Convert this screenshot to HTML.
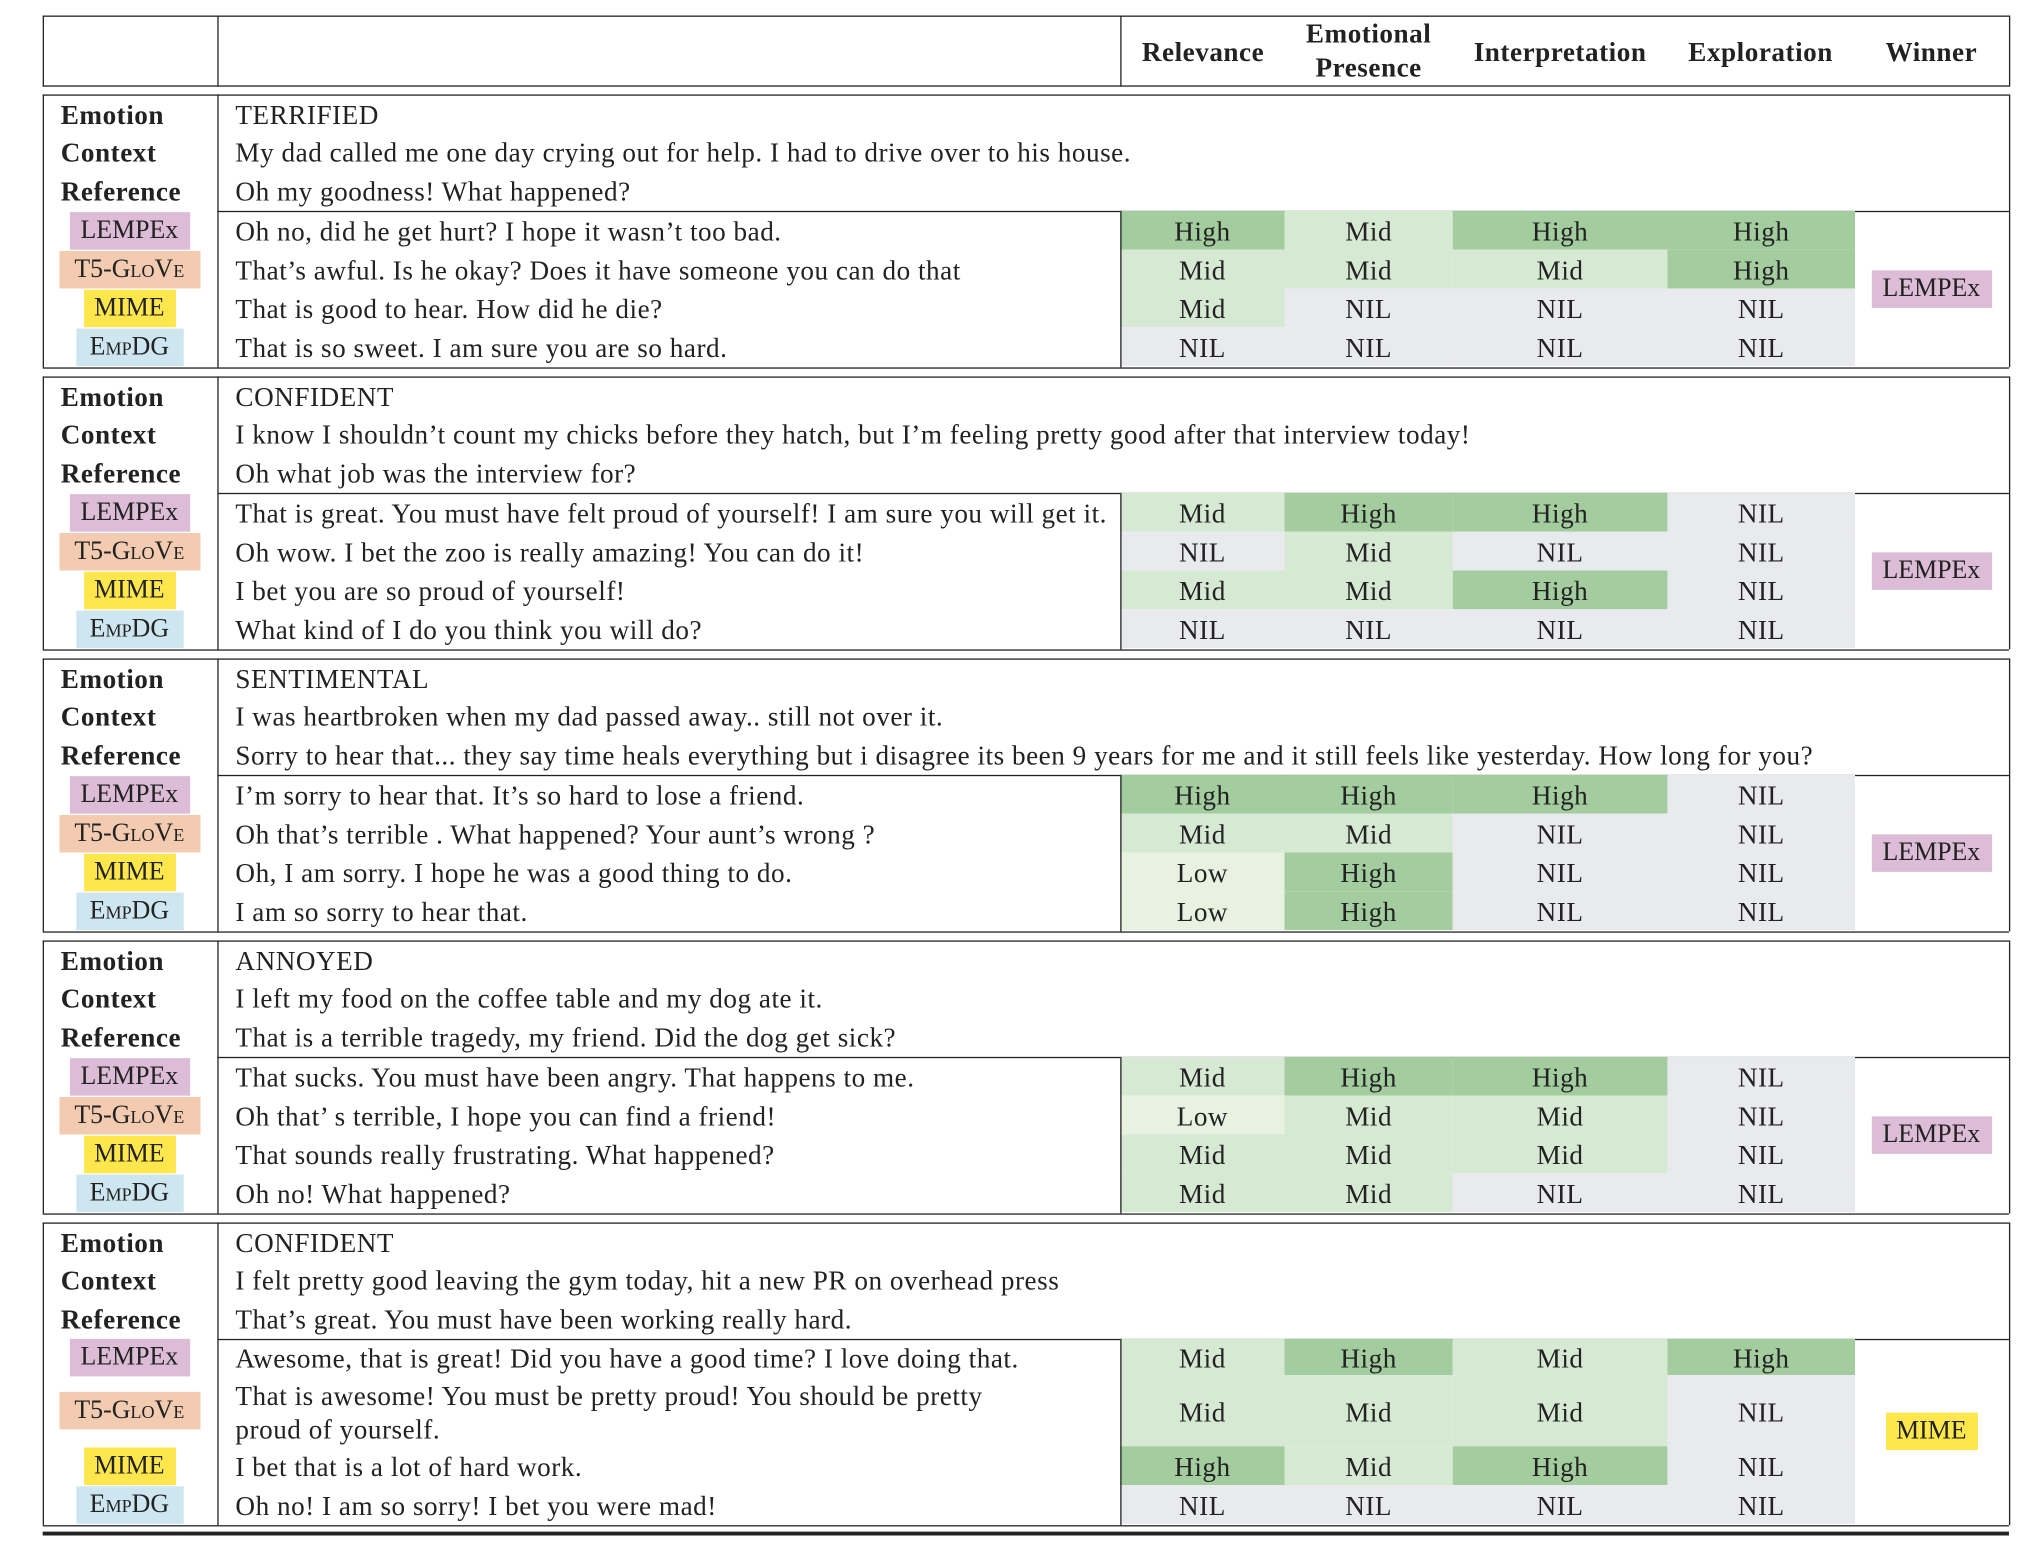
<!DOCTYPE html>
<html><head><meta charset="utf-8">
<style>
html,body{margin:0;padding:0;background:#fff;}
body{width:2018px;height:1542px;overflow:hidden;}
#wrap{position:absolute;left:0;top:0;width:1560px;height:1192px;transform:scale(1.2936);transform-origin:0 0;font-family:"Liberation Serif",serif;font-size:21px;letter-spacing:0.4px;color:#222;}
.a{position:absolute;}
.t{position:absolute;white-space:nowrap;line-height:22px;}
.c{text-align:center;transform:translateX(-50%);}
.b{font-weight:bold;}
.sc{font-variant:small-caps;}
.hl{position:absolute;background:#222;height:1px;}
.vl{position:absolute;background:#222;width:1px;}
</style></head>
<body>
<div id="wrap"></div>
<script>
const emotions=["TERRIFIED","CONFIDENT","SENTIMENTAL","ANNOYED","CONFIDENT"];
const contexts=["My dad called me one day crying out for help. I had to drive over to his house.","I know I shouldn’t count my chicks before they hatch, but I’m feeling pretty good after that interview today!","I was heartbroken when my dad passed away.. still not over it.","I left my food on the coffee table and my dog ate it.","I felt pretty good leaving the gym today, hit a new PR on overhead press"];
const references=["Oh my goodness! What happened?","Oh what job was the interview for?","Sorry to hear that... they say time heals everything but i disagree its been 9 years for me and it still feels like yesterday. How long for you?","That is a terrible tragedy, my friend. Did the dog get sick?","That’s great. You must have been working really hard."];
const models=["LEMPEx","T5-GloVe","MIME","EmpDG"];
const responses=[
["Oh no, did he get hurt? I hope it wasn’t too bad.","That’s awful. Is he okay? Does it have someone you can do that","That is good to hear. How did he die?","That is so sweet. I am sure you are so hard."],
["That is great. You must have felt proud of yourself! I am sure you will get it.","Oh wow. I bet the zoo is really amazing! You can do it!","I bet you are so proud of yourself!","What kind of I do you think you will do?"],
["I’m sorry to hear that. It’s so hard to lose a friend.","Oh that’s terrible . What happened? Your aunt’s wrong ?","Oh, I am sorry. I hope he was a good thing to do.","I am so sorry to hear that."],
["That sucks. You must have been angry. That happens to me.","Oh that’ s terrible, I hope you can find a friend!","That sounds really frustrating. What happened?","Oh no! What happened?"],
["Awesome, that is great! Did you have a good time? I love doing that.","That is awesome! You must be pretty proud! You should be pretty|proud of yourself.","I bet that is a lot of hard work.","Oh no! I am so sorry! I bet you were mad!"]];
const scores=[
[["High","Mid","High","High"],["Mid","Mid","Mid","High"],["Mid","NIL","NIL","NIL"],["NIL","NIL","NIL","NIL"]],
[["Mid","High","High","NIL"],["NIL","Mid","NIL","NIL"],["Mid","Mid","High","NIL"],["NIL","NIL","NIL","NIL"]],
[["High","High","High","NIL"],["Mid","Mid","NIL","NIL"],["Low","High","NIL","NIL"],["Low","High","NIL","NIL"]],
[["Mid","High","High","NIL"],["Low","Mid","Mid","NIL"],["Mid","Mid","Mid","NIL"],["Mid","Mid","NIL","NIL"]],
[["Mid","High","Mid","High"],["Mid","Mid","Mid","NIL"],["High","Mid","High","NIL"],["NIL","NIL","NIL","NIL"]]];
const winners=["LEMPEx","LEMPEx","LEMPEx","LEMPEx","MIME"];
const metrics=["Relevance","Emotional|Presence","Interpretation","Exploration","Winner"];

const W=document.getElementById('wrap');
const colX=[866,993,1123,1289,1434];
const scoreColor={High:"#a3cd9e",Mid:"#d6e9d3",Low:"#e8f2e0",NIL:"#e9eaee"};
const modelColor={"LEMPEx":"#dcbcd6","T5-GloVe":"#f3cbb0","MIME":"#fde74c","EmpDG":"#cde6f0"};
const modelBox={"LEMPEx":[54,93],"T5-GloVe":[46,109],"MIME":[65,71],"EmpDG":[59,83]};
function line(cls,x,y,len,name){const e=document.createElement('div');e.className=cls;e.style.left=x+'px';e.style.top=y+'px';if(cls==='hl')e.style.width=len+'px';else e.style.height=len+'px';


W.appendChild(e);return e;}
function text(s,x,cy,cls,name){const e=document.createElement('div');e.className='t '+(cls||'');e.textContent=s;e.style.left=x+'px';e.style.top=(cy-10)+'px';


W.appendChild(e);return e;}
function rect(x,y,w,h,color,name){const e=document.createElement('div');e.className='a';e.style.left=x+'px';e.style.top=y+'px';e.style.width=w+'px';e.style.height=h+'px';e.style.background=color;


W.appendChild(e);return e;}
function label(m,cy,cx,name){const bx=modelBox[m];const w=bx[1],h=29;const r=rect(cx-w/2,cy-h/2,w,h,modelColor[m],name);
r.style.textAlign='center';r.style.lineHeight=h+'px';r.style.letterSpacing='0';r.style.fontSize='20px';r.textContent=m;if(m==='T5-GloVe'||m==='EmpDG')r.classList.add('sc');}

line('hl',33,12,1520,'header-top-border');
line('hl',33,66,1520,'header-bottom-border');
line('vl',33,12,55,'header-left-border');
line('vl',168,12,55,'header-divider-1');
line('vl',866,12,55,'header-divider-2');
line('vl',1553,12,55,'header-right-border');
const hc=[930,1058,1206,1361,1493];
metrics.forEach((m,i)=>{const parts=m.split('|');
 if(parts.length===1){text(m,hc[i],39,'c b','header-'+m.toLowerCase());}
 else{text(parts[0],hc[i],25,'c b','header-emotional');text(parts[1],hc[i],51,'c b','header-presence');}});

const tops=[73,291,509,727,945];
emotions.forEach((em,b)=>{
 const y0=tops[b];
 const rowH=b===4?[28,55,30,30]:[30,30,30,30];
 const div=y0+90;
 const total=rowH.reduce((a,c)=>a+c,0);
 const bottom=div+total+1;
 line('hl',33,y0,1520,'block-'+(b+1)+'-top-border');
 line('hl',33,bottom,1520,'block-'+(b+1)+'-bottom-border');
 line('vl',33,y0,bottom-y0,'block-'+(b+1)+'-left-border');
 line('vl',168,y0,bottom-y0,'block-'+(b+1)+'-label-divider');
 line('vl',1553,y0,bottom-y0,'block-'+(b+1)+'-right-border');
 line('hl',168,div,1385,'block-'+(b+1)+'-response-divider');
 text('Emotion',47,y0+15,'b','emotion-label');
 text('Context',47,y0+44,'b','context-label');
 text('Reference',47,y0+74,'b','reference-label');
 text(em,182,y0+15,'','emotion-value');
 text(contexts[b],182,y0+44,'','context-text');
 text(references[b],182,y0+74,'','reference-text');
 let y=div;
 models.forEach((m,r)=>{
  const h=rowH[r];const cy=y+h/2;
  scores[b][r].forEach((s,c)=>{
   const x=colX[c],w=colX[c+1]-colX[c];
   rect(x,y,w,h,scoreColor[s],'score-cell-'+s.toLowerCase());
   text(s,x+w/2,cy,'c','score-'+s.toLowerCase());
  });
  label(m,cy,100,'model-label-'+m.toLowerCase());
  const parts=responses[b][r].split('|');
  if(parts.length===1)text(parts[0],182,cy,'','response-text');
  else{text(parts[0],182,cy-13,'','response-text');text(parts[1],182,cy+13,'','response-text');}
  y+=h;
 });
 line('vl',866,div,total+1,'block-'+(b+1)+'-score-divider');
 label(winners[b],div+total/2,1493,'winner-label');
});
const th=line('hl',33,1184,1520,'table-bottom-rule');th.style.height='3px';
</script>
</body></html>
